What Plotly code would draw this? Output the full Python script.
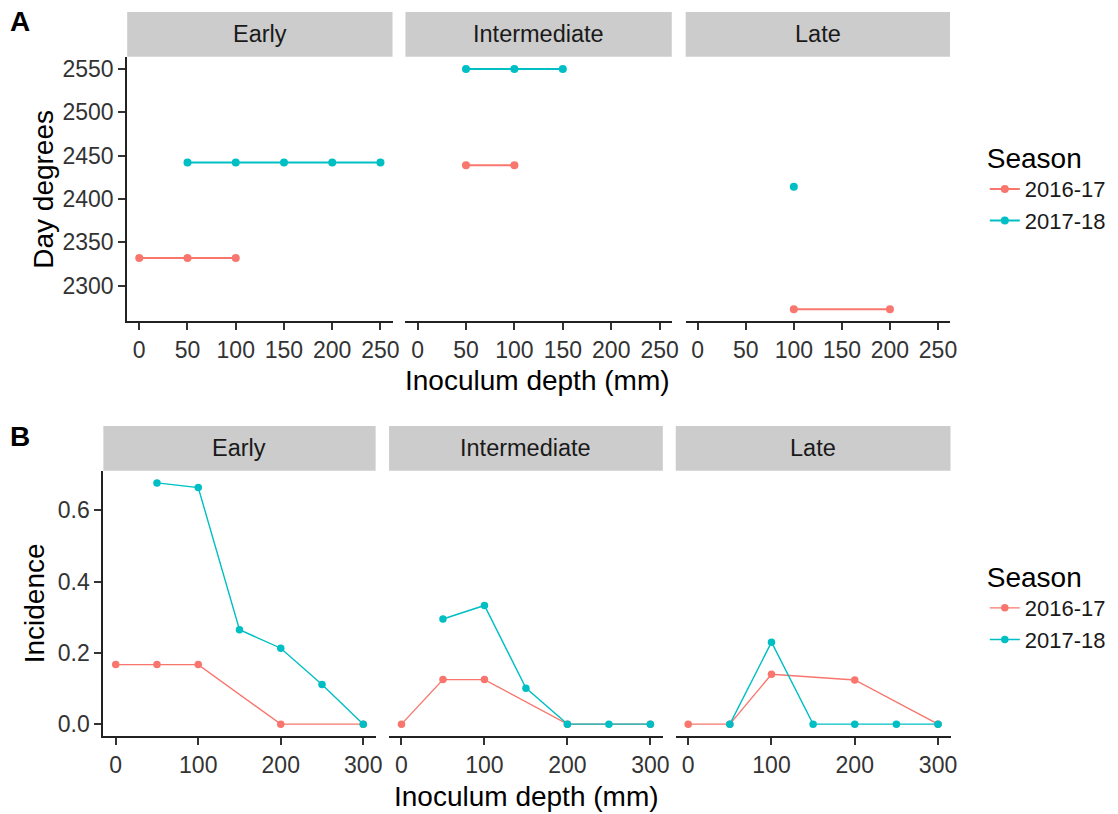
import plotly.graph_objects as go

W, H = 1118, 814
FONT = "Liberation Sans, Arial, sans-serif"

stages = ["Early", "Intermediate", "Late"]
seasons = ["2016-17", "2017-18"]
season_colors = ["#F8766D", "#00BFC4"]

# ---- Panel A: day degrees vs inoculum depth ----
a_early_1617_x = [0, 50, 100]
a_early_1617_y = [2332, 2332, 2332]
a_early_1718_x = [50, 100, 150, 200, 250]
a_early_1718_y = [2442, 2442, 2442, 2442, 2442]
a_int_1617_x = [50, 100]
a_int_1617_y = [2439, 2439]
a_int_1718_x = [50, 100, 150]
a_int_1718_y = [2550, 2550, 2550]
a_late_1617_x = [100, 200]
a_late_1617_y = [2273, 2273]
a_late_1718_x = [100]
a_late_1718_y = [2414]

a_xticks = [0, 50, 100, 150, 200, 250]
a_yticks = [2300, 2350, 2400, 2450, 2500, 2550]

# ---- Panel B: incidence vs inoculum depth ----
b_early_1617_x = [0, 50, 100, 200, 300]
b_early_1617_y = [0.167, 0.167, 0.167, 0.0, 0.0]
b_early_1718_x = [50, 100, 150, 200, 250, 300]
b_early_1718_y = [0.677, 0.664, 0.265, 0.213, 0.111, 0.0]
b_int_1617_x = [0, 50, 100, 200, 300]
b_int_1617_y = [0.0, 0.125, 0.125, 0.0, 0.0]
b_int_1718_x = [50, 100, 150, 200, 250, 300]
b_int_1718_y = [0.295, 0.333, 0.101, 0.0, 0.0, 0.0]
b_late_1617_x = [0, 50, 100, 200, 300]
b_late_1617_y = [0.0, 0.0, 0.14, 0.124, 0.0]
b_late_1718_x = [50, 100, 150, 200, 250, 300]
b_late_1718_y = [0.0, 0.23, 0.0, 0.0, 0.0, 0.0]

b_xticks = [0, 100, 200, 300]
b_yticks = [0.0, 0.2, 0.4, 0.6]

A_data = [
    [(a_early_1617_x, a_early_1617_y), (a_early_1718_x, a_early_1718_y)],
    [(a_int_1617_x, a_int_1617_y), (a_int_1718_x, a_int_1718_y)],
    [(a_late_1617_x, a_late_1617_y), (a_late_1718_x, a_late_1718_y)],
]
B_data = [
    [(b_early_1617_x, b_early_1617_y), (b_early_1718_x, b_early_1718_y)],
    [(b_int_1617_x, b_int_1617_y), (b_int_1718_x, b_int_1718_y)],
    [(b_late_1617_x, b_late_1617_y), (b_late_1718_x, b_late_1718_y)],
]


def expand(lo, hi, f=0.05):
    d = (hi - lo) * f
    return [lo - d, hi + d]


a_all_y = a_early_1617_y + a_early_1718_y + a_int_1617_y + a_int_1718_y + a_late_1617_y + a_late_1718_y
b_all_y = b_early_1617_y + b_early_1718_y + b_int_1617_y + b_int_1718_y + b_late_1617_y + b_late_1718_y
a_xrange = expand(0, 250)
a_yrange = expand(min(a_all_y), max(a_all_y))
b_xrange = expand(0, 300)
b_yrange = expand(min(b_all_y), max(b_all_y))

# layout geometry (pixels)
A_px = [(128, 395), (408, 676), (690, 956)]
A_py = (56, 321)
B_px = [(104, 378), (391.5, 667), (680, 956.5)]
B_py = (471, 737)
STRIP_H = 45


def fx(p):
    return p / W


def fy(p):
    return 1 - p / H


fig = go.Figure()
layout = {}
shapes = []
annotations = []

AXIS_COL = "#222222"
TICK_COL = "#333333"
TICK_SIZE = 23


def add_panel(idx, data, px, py, xrange, yrange, xticks, yticks, legend_name, lw, ms, first, ytickfmt):
    xa = "x" if idx == 1 else f"x{idx}"
    ya = "y" if idx == 1 else f"y{idx}"
    for si, (xs, ys) in enumerate(data):
        fig.add_trace(go.Scatter(
            x=xs, y=ys, mode="lines+markers",
            name=seasons[si],
            line=dict(color=season_colors[si], width=lw),
            marker=dict(color=season_colors[si], size=ms),
            xaxis=xa, yaxis=ya,
            legend=legend_name,
            showlegend=first,
        ))
    layout["xaxis" if idx == 1 else f"xaxis{idx}"] = dict(
        domain=[fx(px[0]), fx(px[1])], anchor=ya, range=xrange,
        tickvals=xticks, ticks="outside", ticklen=7, tickwidth=1.5, tickcolor=TICK_COL,
        showline=True, linecolor=AXIS_COL, linewidth=2, showgrid=False, zeroline=False,
        tickfont=dict(family=FONT, size=TICK_SIZE, color=TICK_COL), fixedrange=True,
    )
    yax = dict(
        domain=[fy(py[1]), fy(py[0])], anchor=xa, range=yrange,
        tickvals=yticks, showgrid=False, zeroline=False, fixedrange=True,
    )
    if first:
        yax.update(ticks="outside", ticklen=7, tickwidth=1.5, tickcolor=TICK_COL,
                   showline=True, linecolor=AXIS_COL, linewidth=2,
                   tickfont=dict(family=FONT, size=TICK_SIZE, color=TICK_COL), tickformat=ytickfmt)
    else:
        yax.update(showticklabels=False, showline=False, ticks="")
    layout["yaxis" if idx == 1 else f"yaxis{idx}"] = yax


for i in range(3):
    add_panel(i + 1, A_data[i], A_px[i], A_py, a_xrange, a_yrange, a_xticks, a_yticks,
              "legend", 2, 8, i == 0, "d")
    add_panel(i + 4, B_data[i], B_px[i], B_py, b_xrange, b_yrange, b_xticks, b_yticks,
              "legend2", 1.4, 7.5, i == 0, ".1f")

# strips
for pxs, py in ((A_px, A_py), (B_px, B_py)):
    for i, (x0, x1) in enumerate(pxs):
        shapes.append(dict(type="rect", xref="paper", yref="paper",
                           x0=fx(x0), x1=fx(x1), y0=fy(py[0]), y1=fy(py[0] - STRIP_H),
                           fillcolor="#CCCCCC", line=dict(width=0), layer="below"))
        annotations.append(dict(text=stages[i], xref="paper", yref="paper",
                                x=fx((x0 + x1) / 2), y=fy(py[0] - STRIP_H / 2),
                                xanchor="center", yanchor="middle", showarrow=False,
                                font=dict(family=FONT, size=23.5, color="#1A1A1A")))


def label(text, x, y, size, angle=0, color="black"):
    annotations.append(dict(text=text, xref="paper", yref="paper", x=fx(x), y=fy(y),
                            xanchor="center", yanchor="middle", showarrow=False,
                            textangle=angle, font=dict(family=FONT, size=size, color=color)))


label("<b>A</b>", 20, 21, 28)
label("<b>B</b>", 20, 437, 28)
label("Day degrees", 43, 188.5, 28, -90)
label("Incidence", 35, 604, 28, -90)
label("Inoculum depth (mm)", 541, 380, 28)
label("Inoculum depth (mm)", 530, 797, 28)

leg_common = dict(xanchor="left", yanchor="top", bgcolor="rgba(0,0,0,0)",
                  font=dict(family=FONT, size=22, color="#1A1A1A"), itemwidth=30,
                  title=dict(text="Season", font=dict(family=FONT, size=28, color="black")),
                  tracegroupgap=0)

fig.update_layout(
    width=W, height=H, autosize=False,
    margin=dict(l=0, r=0, t=0, b=0),
    paper_bgcolor="white", plot_bgcolor="white",
    font=dict(family=FONT),
    shapes=shapes, annotations=annotations,
    legend=dict(x=fx(991), y=fy(131), **leg_common),
    legend2=dict(x=fx(991), y=fy(551), **leg_common),
    **layout,
)

fig.write_html("out.html", post_script="document.body.style.margin='0';",
               config={"displayModeBar": False})
